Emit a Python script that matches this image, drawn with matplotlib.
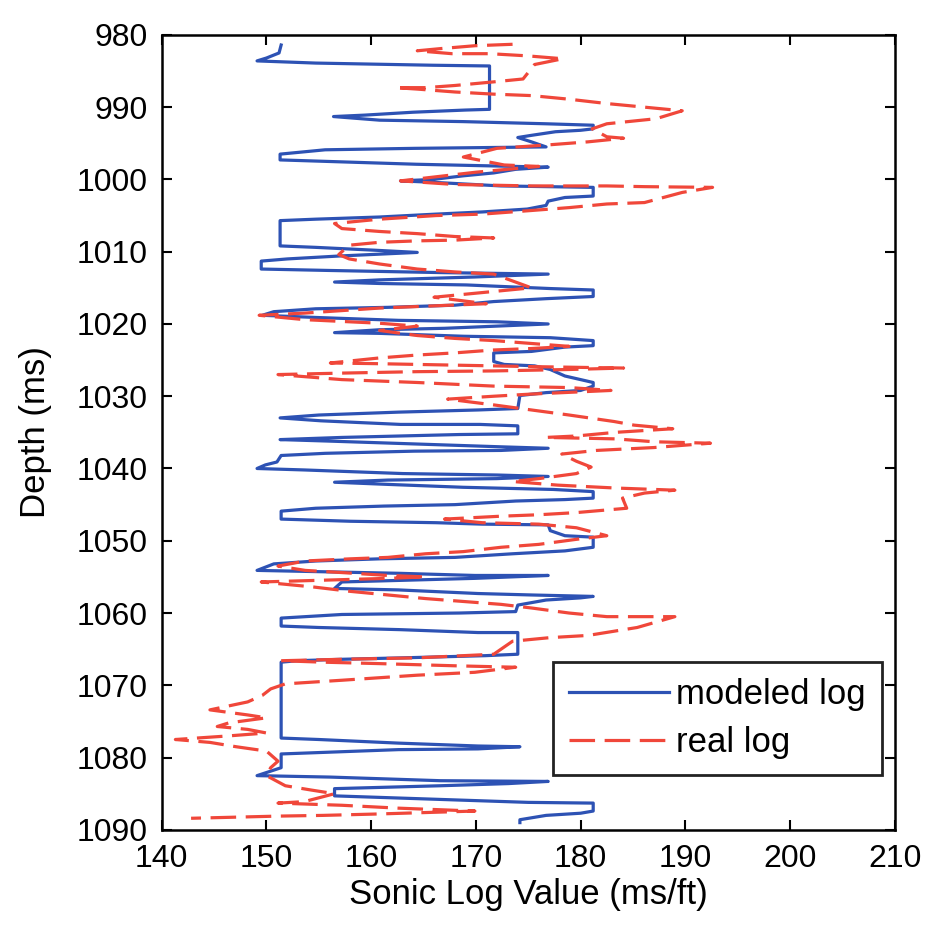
import matplotlib
matplotlib.use("Agg")
import matplotlib.pyplot as plt

plt.rcParams['font.family'] = ['Liberation Sans', 'DejaVu Sans']

# modeled log (blocky) : value, depth
model_value = [
    151.4, 151.2, 150.0, 149.1, 154.7, 165.9, 171.3, 171.3, 169.0, 164.0, 159.4, 156.4,
    160.8, 168.8, 176.7, 181.2, 181.2, 180.0, 177.6, 175.3, 174.0, 175.3, 176.7, 164.1,
    155.6, 151.3, 151.3, 155.6, 164.3, 176.9, 173.8, 171.7, 168.8, 165.9, 162.8, 165.9,
    172.4, 181.2, 181.2, 178.5, 176.9, 176.7, 174.9, 170.6, 166.2, 160.8, 154.7, 151.3,
    151.3, 154.7, 160.4, 164.4, 156.9, 152.0, 149.5, 149.5, 156.1, 167.0, 176.9, 169.9,
    160.8, 156.5, 160.8, 169.1, 177.1, 181.2, 181.2, 176.7, 171.7, 168.0, 161.6, 154.7,
    150.7, 149.6, 154.7, 162.6, 172.0, 176.9, 172.0, 167.0, 160.8, 156.5, 160.8, 168.8,
    177.1, 181.2, 181.2, 178.5, 175.3, 171.7, 171.7, 172.7, 175.6, 177.1, 178.5, 181.2,
    181.2, 180.0, 176.7, 174.2, 174.0, 170.2, 162.6, 155.0, 151.3, 155.2, 162.8, 170.4,
    174.0, 174.0, 168.4, 157.2, 151.3, 155.8, 164.1, 172.4, 176.9, 172.4, 164.1, 155.6,
    151.4, 151.0, 149.9, 149.1, 153.6, 163.0, 172.0, 176.9, 172.0, 161.6, 156.5, 161.6,
    168.8, 177.4, 181.2, 181.2, 178.5, 173.8, 168.0, 161.2, 154.7, 151.4, 151.4, 158.0,
    166.2, 170.6, 176.9, 177.1, 178.5, 181.2, 181.2, 178.5, 173.5, 168.0, 160.8, 154.7,
    150.7, 149.1, 156.1, 162.6, 169.9, 176.9, 169.9, 157.2, 156.5, 162.6, 170.2, 175.3,
    181.2, 180.0, 176.7, 174.0, 173.8, 168.4, 157.2, 151.4, 151.4, 155.0, 162.8, 170.2,
    174.0, 174.0, 170.9, 163.0, 157.2, 152.9, 151.4, 151.4, 155.0, 162.6, 170.2, 174.2,
    170.2, 162.6, 155.0, 151.4, 151.4, 149.1, 156.1, 166.6, 176.9, 173.1, 166.6, 156.5,
    156.5, 162.6, 175.0, 181.2, 181.2, 180.0, 176.7, 174.2, 174.2,
]
model_depth = [
    981.4, 982.5, 983.2, 983.6, 983.9, 984.2, 984.3, 990.3, 990.4, 990.7, 991.1, 991.3,
    991.8, 992.0, 992.3, 992.5, 993.0, 993.2, 993.4, 993.9, 994.2, 994.8, 995.5, 995.7,
    995.9, 996.5, 997.3, 997.5, 997.9, 998.3, 998.6, 999.1, 999.5, 1000.0, 1000.2, 1000.4,
    1000.9, 1001.1, 1002.3, 1002.5, 1003.0, 1003.6, 1004.1, 1004.5, 1004.8, 1005.2, 1005.5, 1005.7,
    1009.2, 1009.4, 1009.8, 1010.1, 1010.6, 1011.0, 1011.3, 1012.4, 1012.6, 1012.9, 1013.1, 1013.5,
    1013.9, 1014.2, 1014.4, 1014.6, 1015.1, 1015.3, 1016.2, 1016.5, 1016.9, 1017.4, 1017.7, 1017.9,
    1018.3, 1018.8, 1019.1, 1019.5, 1019.7, 1020.0, 1020.3, 1020.6, 1020.8, 1021.2, 1021.3, 1021.7,
    1021.9, 1022.3, 1023.0, 1023.2, 1023.8, 1024.0, 1025.2, 1025.6, 1025.8, 1026.3, 1027.2, 1028.1,
    1028.6, 1029.2, 1029.5, 1029.9, 1031.7, 1031.9, 1032.2, 1032.6, 1033.0, 1033.4, 1033.9, 1033.9,
    1034.1, 1035.2, 1035.3, 1035.7, 1036.0, 1036.2, 1036.6, 1037.0, 1037.2, 1037.5, 1037.6, 1037.9,
    1038.2, 1039.1, 1039.5, 1040.0, 1040.2, 1040.7, 1040.9, 1041.1, 1041.4, 1041.6, 1041.9, 1042.2,
    1042.6, 1042.9, 1043.2, 1044.1, 1044.3, 1044.5, 1045.0, 1045.2, 1045.5, 1045.9, 1047.0, 1047.3,
    1047.5, 1047.7, 1047.8, 1048.6, 1049.3, 1049.5, 1050.9, 1051.4, 1051.8, 1052.3, 1052.5, 1052.8,
    1053.2, 1054.1, 1054.3, 1054.5, 1054.8, 1054.8, 1055.2, 1055.7, 1056.6, 1056.8, 1057.3, 1057.5,
    1057.7, 1057.9, 1058.2, 1058.9, 1059.8, 1060.0, 1060.2, 1060.7, 1061.8, 1062.0, 1062.3, 1062.7,
    1062.7, 1065.7, 1065.9, 1066.2, 1066.4, 1066.6, 1066.8, 1077.3, 1077.5, 1078.0, 1078.4, 1078.5,
    1078.8, 1078.9, 1079.3, 1079.5, 1081.4, 1082.5, 1082.7, 1083.2, 1083.3, 1083.6, 1083.9, 1084.3,
    1085.3, 1085.6, 1086.2, 1086.3, 1087.4, 1087.7, 1088.0, 1088.6, 1089.0,
]

# real log : value, depth
real_value = [
    173.5, 169.9, 166.6, 164.4, 167.7, 171.3, 174.9, 178.3, 175.6, 174.5, 171.7, 168.0,
    165.2, 162.3, 164.4, 168.0, 171.7, 175.3, 178.9, 182.5, 186.1, 189.7, 187.2, 182.5,
    181.1, 182.5, 184.1, 180.7, 177.1, 172.0, 168.8, 172.7, 176.0, 170.0, 162.8, 168.0,
    175.3, 182.5, 186.1, 192.6, 189.7, 186.1, 182.5, 178.9, 175.3, 170.6, 166.2, 160.8,
    156.5, 157.2, 160.8, 164.4, 168.0, 171.7, 168.0, 164.4, 160.8, 157.9, 156.9, 157.9,
    160.8, 164.4, 168.0, 171.7, 175.3, 166.0, 171.0, 160.8, 153.6, 149.3, 153.6, 160.8,
    164.4, 160.8, 164.4, 168.0, 171.7, 175.3, 178.9, 175.3, 171.7, 168.0, 164.4, 160.8,
    156.1, 160.8, 168.0, 175.3, 184.1, 178.9, 171.7, 164.4, 157.2, 151.1, 157.2, 164.4,
    171.7, 178.9, 182.9, 175.3, 171.7, 167.3, 171.7, 175.3, 178.9, 183.2, 185.1, 188.8,
    183.3, 179.6, 176.7, 183.3, 187.0, 192.4, 187.0, 181.5, 178.2, 179.6, 181.0, 179.6,
    176.0, 173.5, 177.8, 183.3, 189.0, 186.1, 184.0, 184.4, 179.6, 176.0, 172.4, 167.0,
    170.6, 176.0, 179.6, 182.5, 179.6, 176.0, 172.4, 168.8, 165.2, 161.6, 158.0, 153.7,
    151.1, 153.7, 157.2, 161.6, 165.2, 161.6, 154.5, 149.5, 154.5, 158.0, 161.6, 165.2,
    168.8, 172.4, 175.3, 178.9, 182.5, 185.8, 189.0, 185.4, 180.7, 177.1, 173.5, 171.7,
    164.4, 157.2, 151.4, 155.4, 160.8, 168.0, 173.8, 169.9, 164.4, 157.2, 151.8, 150.4,
    149.6, 148.2, 144.6, 148.2, 150.0, 146.4, 145.3, 148.2, 150.0, 146.4, 141.3, 144.6,
    147.1, 150.0, 151.1, 150.4, 150.0, 151.8, 154.3, 156.5, 153.6, 151.1, 157.2, 162.6,
    169.9, 160.8, 155.4, 151.1, 142.8,
]
real_depth = [
    981.3, 981.5, 981.9, 982.2, 982.6, 982.6, 982.9, 983.3, 984.1, 986.1, 986.5, 987.0,
    987.3, 987.3, 987.5, 987.9, 988.2, 988.4, 988.9, 989.5, 990.0, 990.5, 991.6, 992.3,
    993.0, 994.1, 994.3, 994.8, 995.2, 995.7, 996.9, 998.0, 998.2, 999.0, 1000.2, 1000.7,
    1000.9, 1000.9, 1001.0, 1001.1, 1001.8, 1003.2, 1003.4, 1003.9, 1004.3, 1004.8, 1005.0, 1005.5,
    1006.1, 1006.8, 1007.2, 1007.5, 1007.9, 1008.1, 1008.4, 1008.5, 1008.7, 1009.1, 1010.4, 1011.0,
    1011.7, 1012.4, 1012.8, 1013.1, 1015.0, 1016.3, 1017.2, 1017.8, 1018.5, 1018.8, 1019.4, 1019.9,
    1020.3, 1020.9, 1021.6, 1022.0, 1022.3, 1022.7, 1023.1, 1023.4, 1023.6, 1024.0, 1024.3, 1024.7,
    1025.4, 1025.5, 1025.7, 1025.9, 1026.1, 1026.3, 1026.5, 1026.6, 1026.8, 1027.0, 1027.7, 1028.1,
    1028.6, 1028.8, 1029.2, 1029.7, 1030.0, 1030.4, 1031.2, 1031.9, 1032.6, 1033.5, 1034.0, 1034.5,
    1035.0, 1035.5, 1035.7, 1035.9, 1036.3, 1036.5, 1037.1, 1037.5, 1038.0, 1039.0, 1039.8, 1040.7,
    1041.4, 1041.8, 1042.3, 1042.7, 1043.0, 1043.4, 1044.1, 1045.5, 1046.1, 1046.4, 1046.6, 1047.0,
    1047.5, 1047.7, 1048.2, 1049.3, 1049.8, 1050.5, 1050.9, 1051.5, 1051.8, 1052.3, 1052.5, 1052.8,
    1053.5, 1054.1, 1054.4, 1054.8, 1055.0, 1055.2, 1055.5, 1055.7, 1056.4, 1057.0, 1057.5, 1058.0,
    1058.4, 1058.8, 1059.3, 1060.0, 1060.5, 1060.5, 1060.5, 1062.0, 1063.1, 1063.4, 1063.9, 1065.7,
    1066.2, 1066.4, 1066.6, 1066.8, 1067.0, 1067.3, 1067.5, 1068.2, 1068.6, 1069.3, 1069.8, 1070.5,
    1071.4, 1072.3, 1073.4, 1074.1, 1074.5, 1075.2, 1075.7, 1076.1, 1076.6, 1077.0, 1077.5, 1077.9,
    1078.5, 1079.1, 1080.5, 1081.4, 1082.5, 1083.9, 1084.5, 1085.0, 1086.1, 1086.3, 1086.6, 1087.0,
    1087.4, 1087.8, 1088.0, 1088.1, 1088.4,
]

x_ticks = [140, 150, 160, 170, 180, 190, 200, 210]
y_ticks = [980, 990, 1000, 1010, 1020, 1030, 1040, 1050, 1060, 1070, 1080, 1090]

fig = plt.figure(figsize=(9.35, 9.43), dpi=100)
ax = fig.add_axes([0.173, 0.12, 0.784, 0.843])

ax.plot(model_value, model_depth, color='#2d52b4', lw=2.3, label='modeled log')
ax.plot(real_value, real_depth, color='#f0473a', lw=2.3, dashes=(8, 3), label='real log')

ax.set_xlim(140, 210)
ax.set_ylim(1090, 980)
ax.set_xticks(x_ticks)
ax.set_yticks(y_ticks)
ax.tick_params(direction='in', length=7, width=1.5, labelsize=23, top=True, right=True, pad=10)
for s in ax.spines.values():
    s.set_linewidth(1.8)

ax.set_xlabel('Sonic Log Value (ms/ft)', fontsize=25, labelpad=3)
ax.set_ylabel('Depth (ms)', fontsize=25, labelpad=18)

leg = ax.legend(loc='lower right', bbox_to_anchor=(0.982, 0.069), borderaxespad=0,
                fontsize=25, fancybox=False, framealpha=1, edgecolor='#222222',
                handlelength=2.9, borderpad=0.45, labelspacing=0.45, handletextpad=0.2)
leg.get_frame().set_linewidth(2)

fig.savefig('out.png', dpi=100)
